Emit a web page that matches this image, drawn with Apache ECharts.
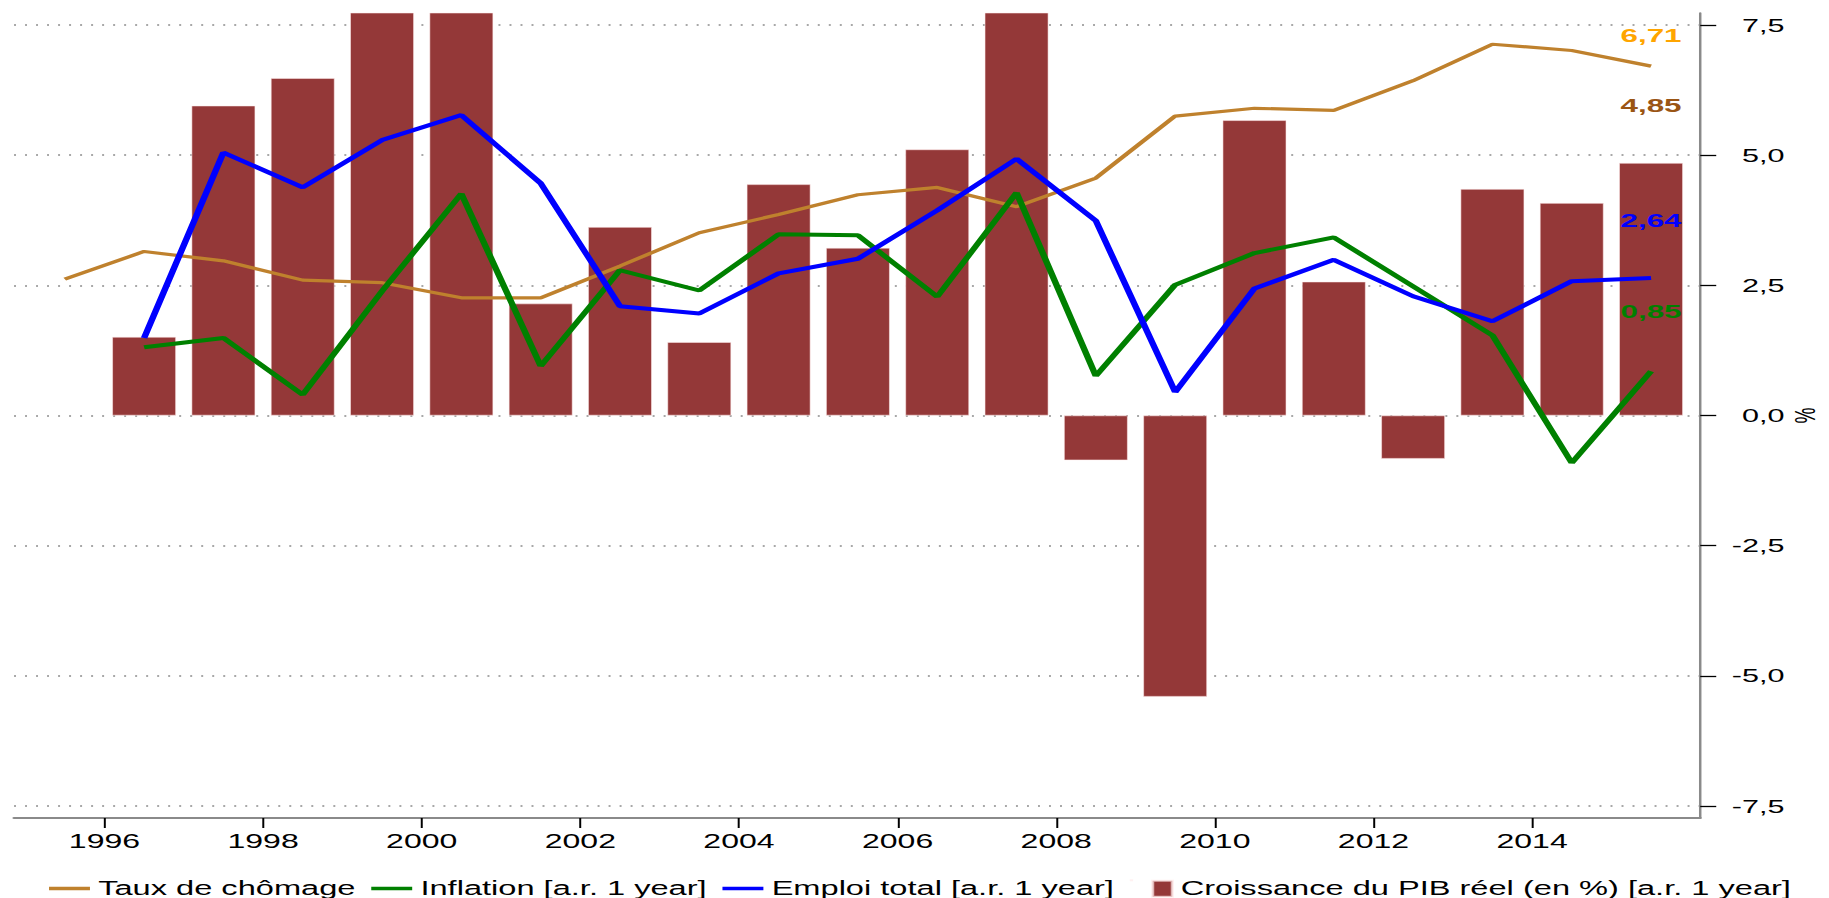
<!DOCTYPE html>
<html>
<head>
<meta charset="utf-8">
<script src="https://cdn.jsdelivr.net/npm/echarts@6/dist/echarts.min.js"></script>
<style>
html, body { margin: 0; padding: 0; background: #ffffff; overflow: hidden; }
#wrap { width: 1829px; height: 898px; overflow: hidden; position: relative; }
#chart { width: 1108px; height: 898px; transform: scaleX(1.6507); transform-origin: 0 0; }
</style>
</head>
<body>
<div id="wrap"><div id="chart"></div></div>
<script>
// ---- data ----
const unemploymentYears = [1995, 1996, 1997, 1998, 1999, 2000, 2001, 2002, 2003, 2004, 2005, 2006, 2007, 2008, 2009, 2010, 2011, 2012, 2013, 2014, 2015];
const unemployment = [2.62, 3.15, 2.97, 2.60, 2.55, 2.26, 2.26, 2.87, 3.51, 3.86, 4.24, 4.38, 4.01, 4.56, 5.75, 5.90, 5.86, 6.43, 7.13, 7.01, 6.71];

const years = [1996, 1997, 1998, 1999, 2000, 2001, 2002, 2003, 2004, 2005, 2006, 2007, 2008, 2009, 2010, 2011, 2012, 2013, 2014, 2015];
const inflation = [1.31, 1.49, 0.40, 2.39, 4.26, 0.95, 2.79, 2.40, 3.48, 3.46, 2.28, 4.28, 0.76, 2.51, 3.12, 3.42, 2.48, 1.54, -0.91, 0.85];
const employment = [1.49, 5.05, 4.38, 5.29, 5.77, 4.46, 2.10, 1.96, 2.73, 3.01, 3.94, 4.93, 3.74, 0.45, 2.44, 2.99, 2.29, 1.81, 2.58, 2.64];
const gdpGrowth = [1.51, 5.95, 6.48, 8.40, 8.20, 2.15, 3.62, 1.41, 4.44, 3.22, 5.11, 8.40, -0.86, -5.40, 5.67, 2.57, -0.83, 4.35, 4.08, 4.85];

const xTickLabels = [1996, 1998, 2000, 2002, 2004, 2006, 2008, 2010, 2012, 2014];
const yTickLabels = [-7.5, -5.0, -2.5, 0.0, 2.5, 5.0, 7.5];

const seriesNames = ['Taux de chômage', 'Inflation [a.r. 1 year]', 'Emploi total [a.r. 1 year]', 'Croissance du PIB réel (en %) [a.r. 1 year]'];

// ---- helpers ----
const FONT = 'Liberation Sans, Arial, sans-serif';
const fmt1 = v => v.toFixed(1).replace('.', ',');
const fmt2 = v => v.toFixed(2).replace('.', ',');

function buildData(yrs, vals, labelStyle) {
  return vals.map((v, i) => {
    const item = { value: [yrs[i] + 0.5, v] };
    if (i === vals.length - 1) {
      item.label = Object.assign({
        show: true,
        position: 'top',
        formatter: p => fmt2(p.value[1]),
        fontFamily: FONT,
        fontWeight: 'bold',
        fontSize: 19
      }, labelStyle);
    }
    return item;
  });
}

const LINE_ICON = 'path://M0,0h24.8v3.4h-24.8z';
const BAR_ICON = 'path://M0,0h0.01v0.01h-0.01z M12.8,0.5h12v16h-12z';

const chart = echarts.init(document.getElementById('chart'), null, { renderer: 'svg' });

const option = {
  animation: false,
  backgroundColor: '#ffffff',
  textStyle: { fontFamily: FONT },
  grid: { left: 8.5, right: 78, top: 13, bottom: 80, containLabel: false, outerBoundsMode: 'none' },
  legend: {
    data: seriesNames.map((n, i) => ({ name: n, icon: i === 3 ? BAR_ICON : LINE_ICON })),
    left: 29.7,
    top: 878.5,
    width: 1078,
    padding: 0,
    itemWidth: 24.8,
    itemHeight: 17,
    itemGap: 9.5,
    textStyle: { fontFamily: FONT, fontSize: 19.75, color: '#000' }
  },
  xAxis: {
    type: 'value',
    min: 1994.86,
    max: 2016.12,
    axisLine: { show: true, onZero: false, lineStyle: { color: '#8a8a8a', width: 2 } },
    axisTick: { show: true, length: 10, customValues: xTickLabels, lineStyle: { color: '#000', width: 1.2 } },
    axisLabel: {
      customValues: xTickLabels,
      formatter: v => String(v),
      margin: 14,
      fontFamily: FONT,
      fontSize: 19.4,
      color: '#000'
    },
    splitLine: { show: false }
  },
  yAxis: {
    type: 'value',
    position: 'right',
    min: -7.73,
    max: 7.73,
    name: '%',
    nameLocation: 'middle',
    nameGap: 54,
    nameMoveOverlap: false,
    nameTextStyle: { fontFamily: FONT, fontSize: 18, color: '#000' },
    axisLine: { show: true, lineStyle: { color: '#8a8a8a', width: 1.5 } },
    axisTick: { show: true, length: 9.7, customValues: yTickLabels, lineStyle: { color: '#000', width: 1.3 } },
    axisLabel: {
      customValues: yTickLabels,
      formatter: v => fmt1(v),
      align: 'right',
      margin: 51,
      fontFamily: FONT,
      fontSize: 18.5,
      color: '#000'
    },
    splitLine: { show: true, lineStyle: { color: '#8c8c8c', width: 1.6, type: [1.2, 5.47] } }
  },
  series: [
    {
      name: seriesNames[3],
      type: 'bar',
      barWidth: 38.8,
      itemStyle: { color: '#943838', borderColor: 'rgba(255,235,235,0.7)', borderWidth: 0.6 },
      data: buildData(years, gdpGrowth, { color: '#9a5514', offset: [0, -43] }),
      z: 2
    },
    {
      name: seriesNames[0],
      type: 'line',
      symbol: 'circle',
      symbolSize: 0.01,
      showSymbol: true,
      lineStyle: { color: '#bf812d', width: 3.2 },
      itemStyle: { color: '#bf812d' },
      data: buildData(unemploymentYears, unemployment, { color: '#ffa500', offset: [0, -16] }),
      z: 3
    },
    {
      name: seriesNames[1],
      type: 'line',
      symbol: 'circle',
      symbolSize: 0.01,
      showSymbol: true,
      lineStyle: { color: '#008000', width: 4 },
      itemStyle: { color: '#008000' },
      data: buildData(years, inflation, { color: '#008000', offset: [0, -45] }),
      z: 4
    },
    {
      name: seriesNames[2],
      type: 'line',
      symbol: 'circle',
      symbolSize: 0.01,
      showSymbol: true,
      lineStyle: { color: '#0000ff', width: 4 },
      itemStyle: { color: '#0000ff' },
      data: buildData(years, employment, { color: '#0000ff', offset: [0, -43.5] }),
      z: 5
    }
  ]
};

chart.setOption(option);
</script>
</body>
</html>
